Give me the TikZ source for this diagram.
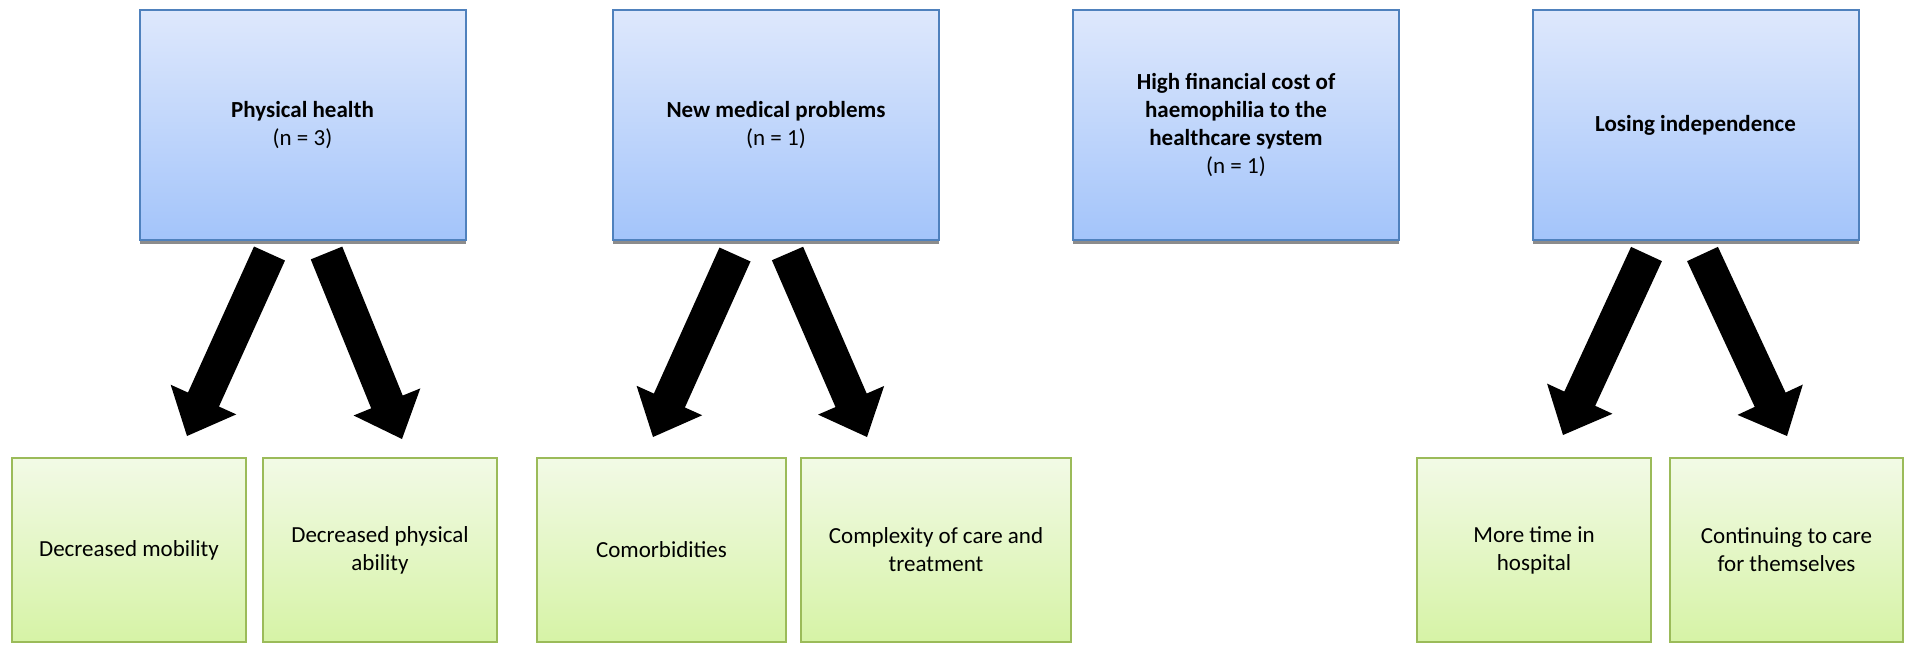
\documentclass[tikz,border=0pt]{standalone}
\usepackage{fontspec}
\setmainfont{Carlito}
\usetikzlibrary{calc,shadows}

\definecolor{themeborder}{RGB}{79,129,189}
\definecolor{themetop}{RGB}{222,232,252}
\definecolor{themebot}{RGB}{163,196,250}
\definecolor{subborder}{RGB}{155,187,89}
\definecolor{subtop}{RGB}{242,250,230}
\definecolor{subbot}{RGB}{214,243,166}

\tikzset{
  themebox/.style={draw=themeborder, line width=2pt, top color=themetop, bottom color=themebot,
    minimum width=326pt, minimum height=230pt, align=center, inner sep=4pt,
    drop shadow={shadow xshift=0pt, shadow yshift=-4pt, fill=black!45, opacity=1},
    font=\fontsize{23}{28}\selectfont},
  subbox/.style={draw=subborder, line width=2pt, top color=subtop, bottom color=subbot,
    minimum height=184pt, align=center, inner sep=4pt,
    font=\fontsize{23}{28}\selectfont},
  arrowfill/.style={fill=black}
}

% a broad block arrow from #1 (middle of its tail) to #2 (its point)
\newcommand\fatarrow[2]{%
  \coordinate (#1-#2-h) at ($(#2)!40pt!(#1)$);
  \fill[arrowfill] ($(#1)!17pt!90:(#2)$) -- ($(#1-#2-h)!17pt!90:(#2)$)
    -- ($(#1-#2-h)!36pt!90:(#2)$) -- (#2) -- ($(#1-#2-h)!36pt!-90:(#2)$)
    -- ($(#1-#2-h)!17pt!-90:(#2)$) -- ($(#1)!17pt!-90:(#2)$) -- cycle;}

\begin{document}
\begin{tikzpicture}[x=1pt,y=-1pt]
\useasboundingbox[fill=white] (0,0) rectangle (1908,645);

% themes
\node[themebox] (t1) at (302.5,125) {\textbf{Physical health}\\(n = 3)};
\node[themebox] (t2) at (776,125) {\textbf{New medical problems}\\(n = 1)};
\node[themebox] (t3) at (1236,125) {\textbf{High financial cost of}\\\textbf{haemophilia to the}\\\textbf{healthcare system}\\(n = 1)};
\node[themebox] (t4) at (1695.5,125) {\textbf{Losing independence}};

% subthemes
\node[subbox, minimum width=234pt] (s1) at (129,550) {Decreased mobility};
\node[subbox, minimum width=234pt] (s2) at (380,550) {Decreased physical\\ability};
\node[subbox, minimum width=249pt] (s3) at (661.5,550) {Comorbidities};
\node[subbox, minimum width=270pt] (s4) at (936,550) {Complexity of care and\\treatment};
\node[subbox, minimum width=234pt] (s5) at (1534,550) {More time in\\hospital};
\node[subbox, minimum width=233pt] (s6) at (1786.5,550) {Continuing to care\\for themselves};

% arrow ends
\coordinate (a1) at (269.5,253.5);  \coordinate (p1) at (187,436);
\coordinate (a2) at (326.5,253);    \coordinate (p2) at (402,439);
\coordinate (a3) at (735,254.5);    \coordinate (p3) at (653,437);
\coordinate (a4) at (787.5,253.5);  \coordinate (p4) at (867,437);
\coordinate (a5) at (1646.5,254);   \coordinate (p5) at (1563,435);
\coordinate (a6) at (1702.5,254);   \coordinate (p6) at (1787,436);

\fatarrow{a1}{p1}
\fatarrow{a2}{p2}
\fatarrow{a3}{p3}
\fatarrow{a4}{p4}
\fatarrow{a5}{p5}
\fatarrow{a6}{p6}
\end{tikzpicture}
\end{document}
